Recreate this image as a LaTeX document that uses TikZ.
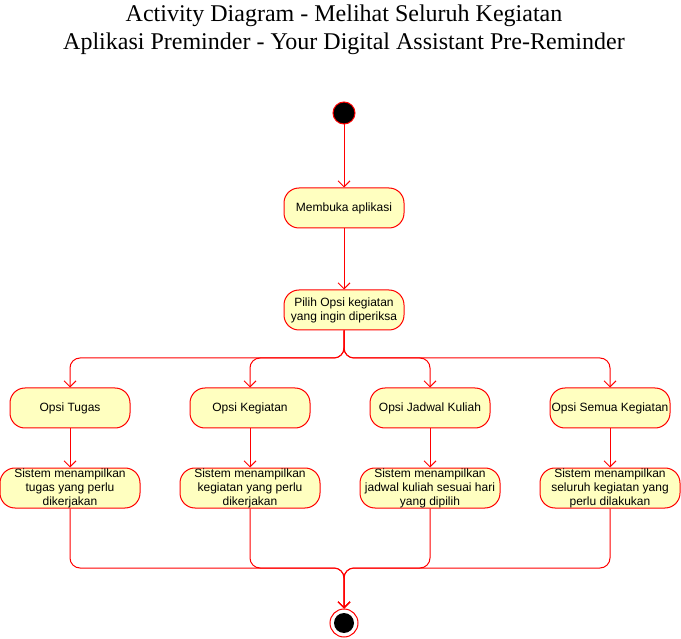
\documentclass[tikz,border=0pt]{standalone}
\usepackage{fontspec}
\setmainfont{Liberation Serif}
\newfontfamily\boxfont{Liberation Sans}
\usetikzlibrary{arrows.meta}
\definecolor{actfill}{HTML}{FFFFC0}
\definecolor{actline}{HTML}{FF0000}
\tikzset{
    activity/.style={draw=actline, fill=actfill, line width=1pt, rounded corners=15pt,
        minimum width=120pt, minimum height=40pt, inner sep=0pt, align=center,
        font=\boxfont\fontsize{12}{14}\selectfont},
    result/.style={activity, minimum width=140pt},
    flow/.style={draw=actline, line width=1pt, rounded corners=10pt, -{Straight Barb[length=6pt,width=12pt]}}
}
\begin{document}
\begin{tikzpicture}[x=1pt, y=-1pt]
        \useasboundingbox (0, 0) rectangle (681, 639);

        % Title
        \node (title) at (344, 30) [align=center, font=\fontsize{24}{28}\selectfont]
            {Activity Diagram - Melihat Seluruh Kegiatan\\Aplikasi Preminder - Your Digital Assistant Pre-Reminder};

        % Start and first activities
        \node (start) at (344, 113) [circle, draw=actline, line width=1pt, fill=black, minimum size=22pt, inner sep=0pt] {};
        \node (buka) at (344, 208) [activity] {Membuka aplikasi};
        \node (pilih) at (344, 310) [activity] {Pilih Opsi kegiatan\\yang ingin diperiksa};

        % Options
        \node (tugas) at (70, 408) [activity] {Opsi Tugas};
        \node (kegiatan) at (250, 408) [activity] {Opsi Kegiatan};
        \node (jadwal) at (430, 408) [activity] {Opsi Jadwal Kuliah};
        \node (semua) at (610, 408) [activity] {Opsi Semua Kegiatan};

        % System results
        \node (tampilTugas) at (70, 488) [result] {Sistem menampilkan\\tugas yang perlu\\dikerjakan};
        \node (tampilKegiatan) at (250, 488) [result] {Sistem menampilkan\\kegiatan yang perlu\\dikerjakan};
        \node (tampilJadwal) at (430, 488) [result] {Sistem menampilkan\\jadwal kuliah sesuai hari\\yang dipilih};
        \node (tampilSemua) at (610, 488) [result] {Sistem menampilkan\\seluruh kegiatan yang\\perlu dilakukan};

        % End
        \node (end) at (344, 623) [circle, draw=actline, line width=1pt, fill=white, minimum size=28pt, inner sep=0pt] {};
        \node (endDot) at (344, 623) [circle, fill=black, minimum size=20pt, inner sep=0pt] {};

        % Flows
        \draw[flow] (start) -- (buka);
        \draw[flow] (buka) -- (pilih);
        \draw[flow] (pilih.south) -- (344, 358) -- (70, 358) -- (tugas.north);
        \draw[flow] (pilih.south) -- (344, 358) -- (250, 358) -- (kegiatan.north);
        \draw[flow] (pilih.south) -- (344, 358) -- (430, 358) -- (jadwal.north);
        \draw[flow] (pilih.south) -- (344, 358) -- (610, 358) -- (semua.north);
        \draw[flow] (tugas) -- (tampilTugas);
        \draw[flow] (kegiatan) -- (tampilKegiatan);
        \draw[flow] (jadwal) -- (tampilJadwal);
        \draw[flow] (semua) -- (tampilSemua);
        \draw[flow] (tampilTugas.south) -- (70, 568) -- (344, 568) -- (end.north);
        \draw[flow] (tampilKegiatan.south) -- (250, 568) -- (344, 568) -- (end.north);
        \draw[flow] (tampilJadwal.south) -- (430, 568) -- (344, 568) -- (end.north);
        \draw[flow] (tampilSemua.south) -- (610, 568) -- (344, 568) -- (end.north);
\end{tikzpicture}
\end{document}
